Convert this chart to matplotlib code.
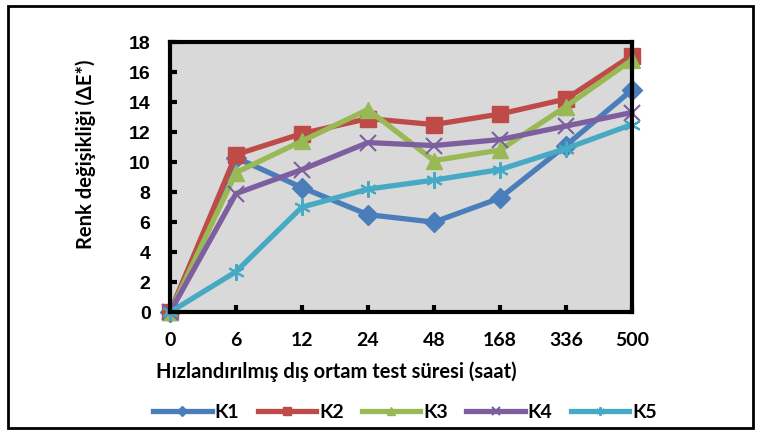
import numpy as np
import matplotlib.pyplot as plt
from matplotlib.patches import Rectangle

hours = ['0', '6', '12', '24', '48', '168', '336', '500']
k1 = [0, 10.3, 8.3, 6.5, 6.0, 7.6, 11.1, 14.8]
k2 = [0, 10.5, 11.9, 12.9, 12.5, 13.2, 14.2, 17.1]
k3 = [0, 9.3, 11.4, 13.5, 10.1, 10.8, 13.7, 16.8]
k4 = [0, 7.9, 9.5, 11.3, 11.1, 11.5, 12.4, 13.3]
k5 = [0, 2.7, 7.0, 8.2, 8.8, 9.5, 10.9, 12.5]

series = [
    ('K1', k1, '#4a7ebb', 'D', 10),
    ('K2', k2, '#be4b48', 's', 11),
    ('K3', k3, '#98b954', '^', 12),
    ('K4', k4, '#7d5fa0', 'x', 11),
    ('K5', k5, '#46aac5', (6, 2, 0), 12),
]

plt.rcParams['font.family'] = ['Lato', 'DejaVu Sans']

fig = plt.figure(figsize=(7.57, 4.33), dpi=100)
fig.patches.append(Rectangle((0.01, 0.012), 0.985, 0.975, transform=fig.transFigure,
                             fill=False, edgecolor='black', linewidth=2))
ax = fig.add_axes([0.2246, 0.279, 0.61, 0.624])
ax.set_facecolor('#d9d9d9')

x = np.arange(len(hours))
for name, vals, col, mk, ms in series:
    ax.plot(x, vals, color=col, linewidth=3.8, marker=mk, markersize=ms,
            markeredgecolor=col, markeredgewidth=1.5 if mk == 'x' or isinstance(mk, tuple) else 1,
            label=name, clip_on=False)

ax.set_xlim(0, 7)
ax.set_ylim(0, 18)
ax.set_yticks(range(0, 19, 2))
ax.set_xticks(x)
ax.set_xticklabels(hours)
for s in ax.spines.values():
    s.set_linewidth(3)
ax.tick_params(direction='in', length=5, width=3)
ax.tick_params(axis='x', pad=14, labelsize=14)
ax.tick_params(axis='y', pad=14, labelsize=14)
for lbl in ax.get_xticklabels():
    lbl.set_fontweight('bold')
for lbl in ax.get_yticklabels():
    lbl.set_fontweight('bold')
    lbl.set_family('Liberation Sans')
ax.set_xlabel('Hızlandırılmış dış ortam test süresi (saat)', fontsize=14.5,
              fontweight='bold')
ax.xaxis.set_label_coords(0.361, -0.183)
ax.set_ylabel('Renk değişikliği (ΔE*)', fontsize=14.5, fontweight='bold')
ax.yaxis.set_label_coords(-0.16, 0.585)

handles, labels = ax.get_legend_handles_labels()
leg = fig.legend(handles, labels, loc='center', bbox_to_anchor=(0.535, 0.048), ncol=5,
                 frameon=False, handlelength=3.0, markerscale=0.5,
                 columnspacing=0.95, handletextpad=0.15, prop={'weight': 'bold', 'size': 14})

fig.savefig('out.png', dpi=100)
